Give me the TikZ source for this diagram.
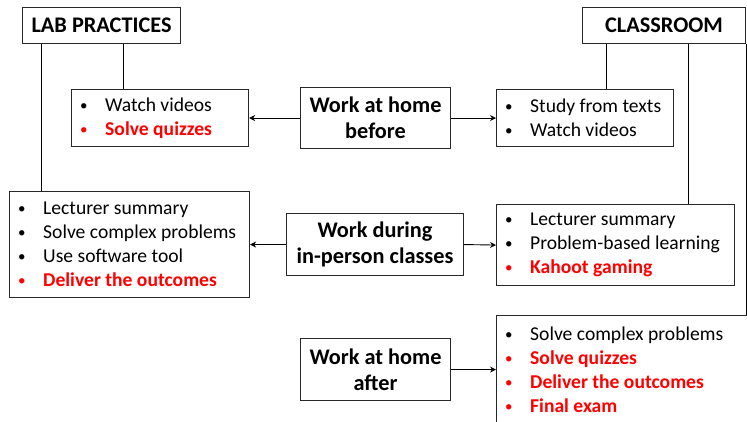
\documentclass[tikz,border=0pt]{standalone}
\usepackage{fontspec}
\setmainfont{Carlito}
\usetikzlibrary{arrows.meta,calc}
\definecolor{boxline}{RGB}{40,40,40}
\definecolor{hired}{RGB}{255,0,0}
\newcommand{\bul}{\makebox[25pt][l]{\raisebox{1pt}{\fontsize{15}{15}\selectfont •}}}
\newcommand{\bl}[1]{\mbox{\bul#1}}
\newcommand{\rbl}[1]{\mbox{\color{hired}\bul\textbf{#1}}}
\tikzset{
  box/.style={draw=boxline, line width=1.1pt, anchor=north west, inner sep=0pt, fill=white},
  head/.style={box, font=\fontsize{22.3}{26}\selectfont\bfseries, align=center},
  listtext/.style={anchor=west, inner sep=0pt, font=\fontsize{19.6}{24}\selectfont, align=left},
  conn/.style={draw=black, line width=0.9pt},
  arr/.style={conn, -{Stealth[length=6pt,width=6pt]}}
}
\begin{document}
\begin{tikzpicture}[x=1pt,y=-1pt]
\useasboundingbox (0,0) rectangle (747,422);
\clip (0,0) rectangle (747,422);
% headings
\node[head, minimum width=158pt, minimum height=36pt] (lab) at (22,7) {LAB PRACTICES};
\node[head, minimum width=163pt, minimum height=36pt] (cls) at (582,7) {CLASSROOM};
% central boxes
\node[head, minimum width=150pt, minimum height=61pt] (before) at (300,87) {Work at home\\before};
\node[head, minimum width=177pt, minimum height=62pt] (during) at (286,213) {Work during\\in-person classes};
\node[head, minimum width=150pt, minimum height=62pt] (after) at (300,338) {Work at home\\after};
% list boxes
\node[box, minimum width=177pt, minimum height=57pt] (watch) at (71,89) {};
\node[box, minimum width=177pt, minimum height=57pt] (study) at (496,89) {};
\node[box, minimum width=240pt, minimum height=106pt] (lecL) at (9,191) {};
\node[box, minimum width=238pt, minimum height=81pt] (lecR) at (496,204) {};
\node[box, minimum width=262pt, minimum height=108pt] (last) at (496,315) {};
\node[listtext] (watchT) at ([xshift=9pt]watch.west) {\bl{Watch videos}\\\rbl{Solve quizzes}};
\node[listtext] (studyT) at ([xshift=9pt]study.west) {\bl{Study from texts}\\\bl{Watch videos}};
\node[listtext] (lecLT) at ([xshift=9pt]lecL.west) {\bl{Lecturer summary}\\\bl{Solve complex problems}\\\bl{Use software tool}\\\rbl{Deliver the outcomes}};
\node[listtext] (lecRT) at ([xshift=9pt]lecR.west) {\bl{Lecturer summary}\\\bl{Problem-based learning}\\\rbl{Kahoot gaming}};
\node[listtext] (lastT) at ([xshift=9pt]last.west) {\bl{Solve complex problems}\\\rbl{Solve quizzes}\\\rbl{Deliver the outcomes}\\\rbl{Final exam}};
% tree connectors
\coordinate (labA) at ([xshift=19pt]lab.south west);
\coordinate (labB) at ([xshift=101pt]lab.south west);
\coordinate (clsA) at ([xshift=24pt]cls.south west);
\coordinate (clsB) at ([xshift=106pt]cls.south west);
\draw[conn] (labA) -- (labA |- lecL.north);
\draw[conn] (labB) -- (labB |- watch.north);
\draw[conn] (clsA) -- (clsA |- study.north);
\draw[conn] (clsB) -- (clsB |- lecR.north);
\draw[conn] (cls.south east) -- (cls.south east |- last.north);
% arrows
\draw[arr] (before.west) -- (watch.east);
\draw[arr] (before.east) -- (study.west);
\draw[arr] (during.west) -- (lecL.east);
\draw[arr] (during.east) -- (lecR.west);
\draw[arr] (after.east) -- (last.west);
\end{tikzpicture}
\end{document}
